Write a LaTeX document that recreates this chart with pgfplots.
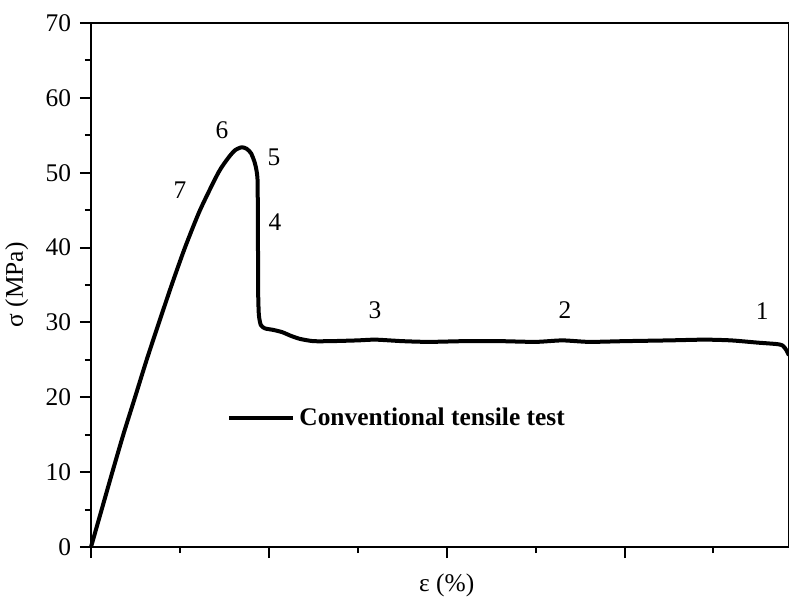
\documentclass[border=0pt]{standalone}
\usepackage{fontspec}
\setmainfont{Liberation Serif}
\usepackage{pgfplots}
\pgfplotsset{compat=1.18}
\usetikzlibrary{calc}
\begin{document}
\begin{tikzpicture}
\fontsize{12.7}{15}\selectfont
\begin{axis}[
  name=ax,
  scale only axis,
  width=349pt, height=262pt,
  xmin=0, xmax=7.85, ymin=0, ymax=70,
  xtick={0,2,4,6}, minor xtick={1,3,5,7},
  xticklabels={},
  ytick={0,10,...,70}, minor ytick={5,15,...,65},
  tick pos=left, tick align=outside,
  major tick length=5.5pt, minor tick length=3pt,
  every tick/.style={black, line width=1pt},
  axis line style={line width=1pt},
  /pgf/number format/assume math mode=true,
  tick label style={font=\fontsize{12.7}{15}\selectfont},
  ylabel={σ (MPa)},
  xlabel={ε (\%)},
  label style={font=\fontsize{12.7}{15}\selectfont},
  xlabel style={at={(axis cs:4,0)}, anchor=north, yshift=-9pt},
  clip=false,
  legend style={draw=none, fill=none, at={(axis cs:1.53,17.2)}, anchor=west,
    font=\fontsize{12.7}{15}\selectfont\bfseries, inner sep=0pt},
  legend image code/.code={\draw[#1] (0pt,0pt) -- (27.5pt,0pt); \path (0pt,0pt) -- (32pt,0pt);},
]
\addplot[black, line width=2pt, line join=round, smooth, tension=0.4] coordinates {
(0,0) (0.12,5) (0.24,10) (0.363,15) (0.495,20) (0.626,25) (0.765,30)
(0.907,35) (1.057,40) (1.226,45) (1.432,50) (1.545,52) (1.62,53.0)
(1.695,53.4) (1.75,53.2) (1.80,52.6) (1.845,51.2) (1.872,49.3)
(1.876,45) (1.878,40) (1.88,34) (1.888,31) (1.91,29.65) (1.957,29.2) (2.05,29.0)
(2.15,28.7) (2.25,28.2) (2.35,27.8) (2.50,27.5) (2.70,27.5) (3.0,27.6)
(3.2,27.7) (3.5,27.5) (3.8,27.4) (4.2,27.5) (4.6,27.5) (5.0,27.4) (5.3,27.6)
(5.6,27.4) (6.0,27.5) (6.5,27.6) (6.9,27.7) (7.2,27.6) (7.5,27.3) (7.72,27.1)
(7.78,26.9) (7.82,26.3) (7.85,25.6)
};
\addlegendentry{Conventional tensile test}
\node at (axis cs:1.00,47.7) {7};
\node at (axis cs:1.474,55.7) {6};
\node at (axis cs:2.058,52.1) {5};
\node at (axis cs:2.07,43.4) {4};
\node at (axis cs:3.195,31.6) {3};
\node at (axis cs:5.33,31.6) {2};
\node at (axis cs:7.548,31.5) {1};
\end{axis}
\pgfresetboundingbox
\path[use as bounding box] ($(ax.south west)+(-45.5pt,-25.5pt)$) rectangle ($(ax.north east)+(0pt,11.5pt)$);
\end{tikzpicture}
\end{document}
